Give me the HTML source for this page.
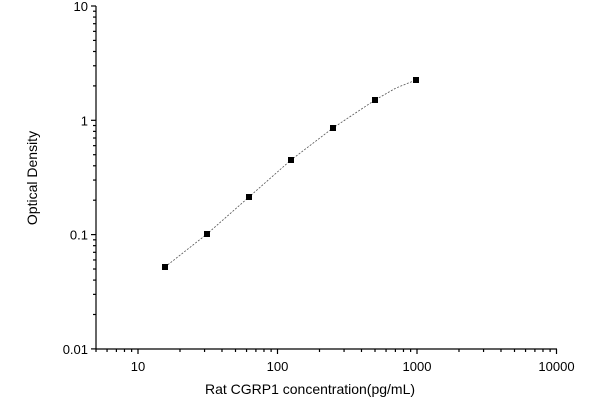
<!DOCTYPE html>
<html><head><meta charset="utf-8"><style>
html,body{margin:0;padding:0;background:#fff;}
svg{display:block;font-family:"Liberation Sans",Arial,sans-serif;}
</style></head><body>
<svg id="s" width="600" height="400" viewBox="0 0 600 400" xmlns="http://www.w3.org/2000/svg">
<g id="g" stroke="#000" stroke-width="1.2" fill="none"></g>
<g id="t" font-size="13" fill="#000"></g>
<text x="310" y="394" font-size="14" text-anchor="middle">Rat CGRP1 concentration(pg/mL)</text>
<text transform="translate(37,178) rotate(-90)" font-size="14" text-anchor="middle">Optical Density</text>
<polyline points="165,267 207,234 249,197 291,160 333,128 375,100 396,88 416,80" fill="none" stroke="#555" stroke-width="0.8" stroke-dasharray="2,1.5"/>
<g fill="#000">
<rect x="162" y="264" width="6" height="6"/><rect x="204" y="231" width="6" height="6"/><rect x="246" y="194" width="6" height="6"/><rect x="288" y="157" width="6" height="6"/><rect x="330" y="125" width="6" height="6"/><rect x="372" y="97" width="6" height="6"/><rect x="413" y="77" width="6" height="6"/>
</g>
</svg>
<script>
var g=document.getElementById('g'),t=document.getElementById('t'),ns='http://www.w3.org/2000/svg';
function L(x1,y1,x2,y2){var l=document.createElementNS(ns,'line');l.setAttribute('x1',x1);l.setAttribute('y1',y1);l.setAttribute('x2',x2);l.setAttribute('y2',y2);g.appendChild(l);}
function T(x,y,s,a){var e=document.createElementNS(ns,'text');e.setAttribute('x',x);e.setAttribute('y',y);e.setAttribute('text-anchor',a);e.textContent=s;t.appendChild(e);}
var X0=96,YB=349;
L(X0,6,X0,YB);L(X0,YB,557,YB);
function xp(v){return 138+139.5*(Math.log10(v)-1);}
function yp(v){return 6+114.3*(1-Math.log10(v));}
for(var d=0;d<4;d++){for(var m=1;m<10;m++){var v=Math.pow(10,d)*m;if(v<5)continue;var x=xp(v);if(x>558)continue;L(x,YB,x,YB+(m==1?5:3));}}
L(xp(10000),YB,xp(10000),YB+5);
['10','100','1000','10000'].forEach(function(s,i){T(xp(Math.pow(10,i+1)),YB+22,s,'middle');});
for(var d=-2;d<1;d++){for(var m=1;m<10;m++){var v=Math.pow(10,d)*m;var y=yp(v);L(X0,y,X0-(m==1?5:3),y);}}
L(X0,yp(10),X0-5,yp(10));
[['10',10],['1',1],['0.1',0.1],['0.01',0.01]].forEach(function(p){T(X0-8,yp(p[1])+5,p[0],'end');});
</script>
</body></html>
